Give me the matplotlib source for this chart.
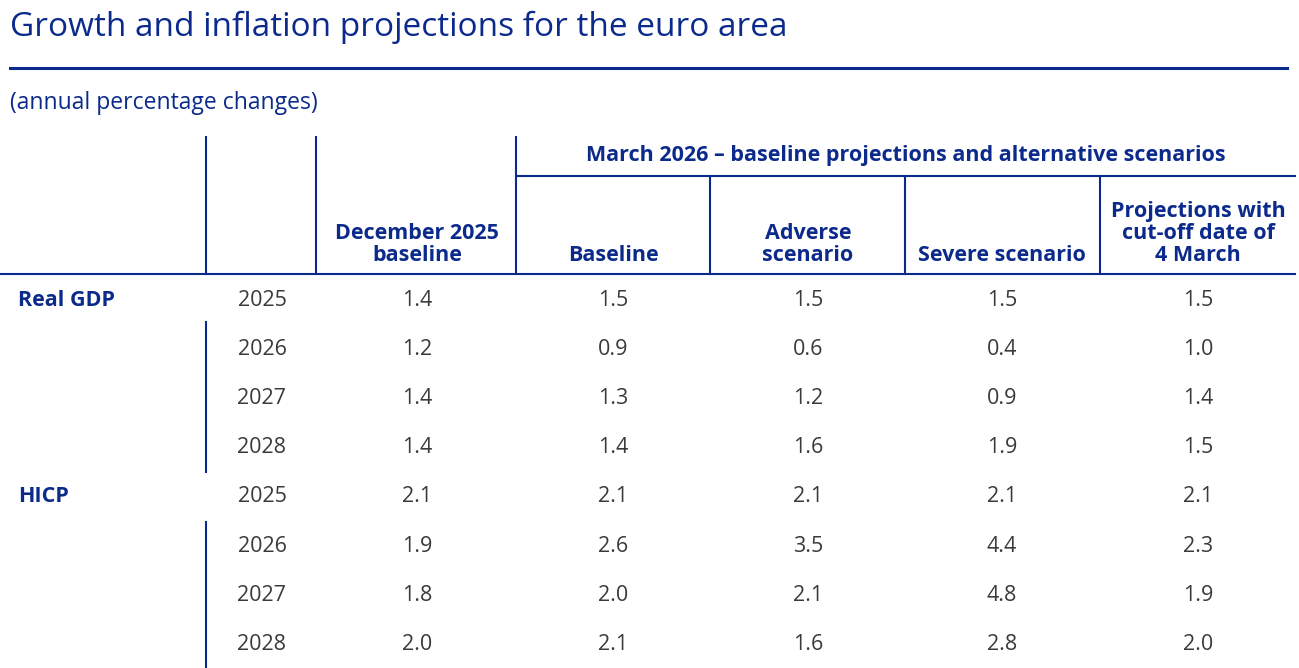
import matplotlib.pyplot as plt
from matplotlib.lines import Line2D

navy = '#0b2a8c'
grey = '#3a3a3a'

title = 'Growth and inflation projections for the euro area'
subtitle = '(annual percentage changes)'
group_header = 'March 2026 \u2013 baseline projections and alternative scenarios'
col_headers = ['December 2025\nbaseline', 'Baseline', 'Adverse\nscenario',
               'Severe scenario', 'Projections with\ncut-off date of\n4 March']
variables = ['Real GDP', 'HICP']
years = ['2025', '2026', '2027', '2028']
dec2025 = [1.4, 1.2, 1.4, 1.4, 2.1, 1.9, 1.8, 2.0]
baseline = [1.5, 0.9, 1.3, 1.4, 2.1, 2.6, 2.0, 2.1]
adverse = [1.5, 0.6, 1.2, 1.6, 2.1, 3.5, 2.1, 1.6]
severe = [1.5, 0.4, 0.9, 1.9, 2.1, 4.4, 4.8, 2.8]
cutoff = [1.5, 1.0, 1.4, 1.5, 2.1, 2.3, 1.9, 2.0]

W, H = 1299, 668
fig = plt.figure(figsize=(W / 100, H / 100), dpi=100)
ax = fig.add_axes([0, 0, 1, 1])
ax.set_xlim(0, W)
ax.set_ylim(H, 0)
ax.axis('off')
plt.rcParams['font.family'] = ['Open Sans', 'DejaVu Sans']

def hline(y, x0, x1, lw=1.5):
    ax.add_line(Line2D([x0, x1], [y, y], color=navy, lw=lw))

def vline(x, y0, y1, lw=1.5):
    ax.add_line(Line2D([x, x], [y0, y1], color=navy, lw=lw))

ax.text(10, 27, title, color=navy, fontsize=24, va='center', ha='left')
hline(68, 10, 1287, lw=2.2)
ax.text(10, 103, subtitle, color=navy, fontsize=16.5, va='center', ha='left')

# header grid
vline(206, 137, 274)
vline(316, 137, 274)
vline(516, 137, 274)
for x in [710, 905, 1100]:
    vline(x, 176, 274)
hline(176, 516, 1295)
hline(274, 0, 1295)
vline(206, 322, 472)
vline(206, 522, 668)

ax.text(906, 156, group_header, color=navy, fontsize=15.5, fontweight='bold',
        ha='center', va='center')
col_x = [417, 613, 808, 1002, 1198]
for x, h in zip(col_x, col_headers):
    ax.text(x, 266, h, color=navy, fontsize=15.5, fontweight='bold',
            ha='center', va='bottom', linespacing=1.05)

row_y = [300 + i * 49.2 for i in range(8)]
cols = [dec2025, baseline, adverse, severe, cutoff]
for i, y in enumerate(row_y):
    if i % 4 == 0:
        ax.text(18, y, variables[i // 4], color=navy, fontsize=15.5,
                fontweight='bold', ha='left', va='center')
    ax.text(262, y, years[i % 4], color=grey, fontsize=15.5, ha='center', va='center')
    for x, c in zip(col_x, cols):
        ax.text(x, y, f'{c[i]:.1f}', color=grey, fontsize=15.5, ha='center', va='center')

fig.savefig('out.png', dpi=100, facecolor='white')
